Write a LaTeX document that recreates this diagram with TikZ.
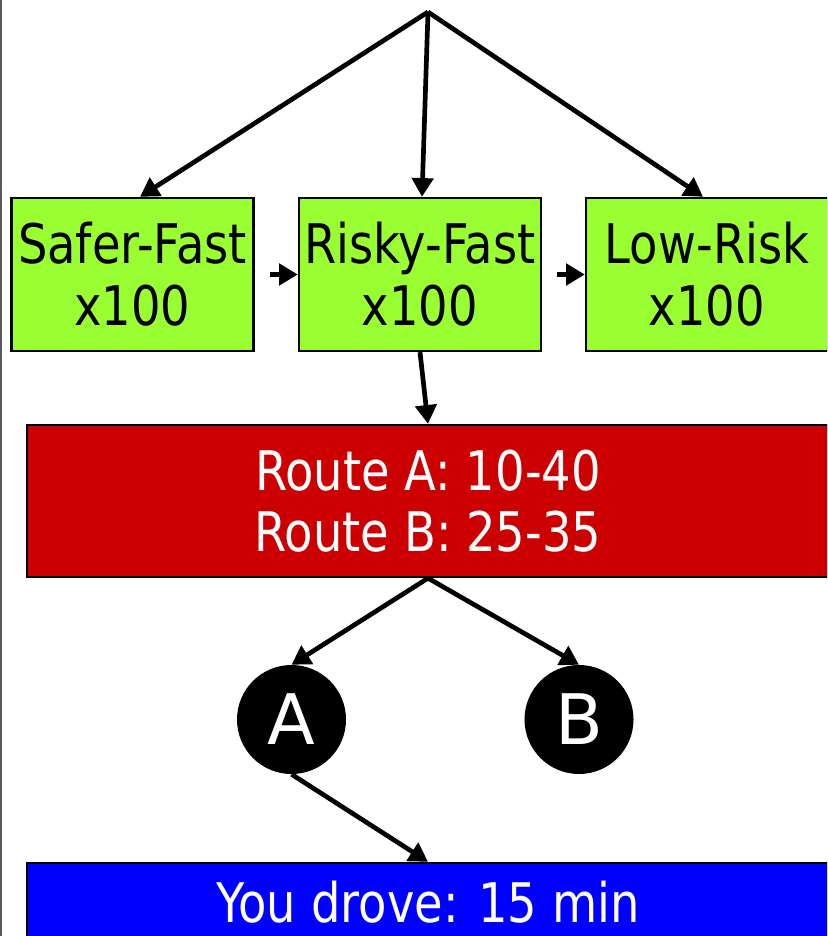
\documentclass[tikz,border=0pt]{standalone}
\usepackage{fontspec}
\setmainfont{DejaVu Sans}[FakeStretch=0.85]
\newfontfamily\letterfont{DejaVu Sans}
\usetikzlibrary{arrows.meta}
\definecolor{boxgreen}{HTML}{99FF33}
\definecolor{boxred}{HTML}{CC0000}
\definecolor{boxblue}{HTML}{0000FF}

\begin{document}
\begin{tikzpicture}[x=0.03cm,y=-0.03cm,
  arr/.style={-{Triangle[length=16pt,width=18pt]},line width=4pt},
  bigtext/.style={font=\fontsize{46.6}{52.7}\selectfont},
  choice/.style={bigtext,draw=black,line width=2pt,fill=boxgreen,
    minimum width=7.26cm,minimum height=4.59cm,align=center,inner sep=0pt},
  band/.style={bigtext,draw=black,line width=2pt,text=white,
    minimum width=24.06cm,align=center,inner sep=0pt},
  disc/.style={circle,fill=black,text=white,minimum size=3.27cm,inner sep=0pt,
    font=\letterfont\fontsize{59.5}{60}\selectfont}]
  \useasboundingbox (0,0) rectangle (827,936);
  \clip (0,0) rectangle (827,936);
  \draw[gray!70!black,line width=1.5pt] (1,0) -- (1,936);

  \coordinate (top) at (428,12);
  \node[choice] (safer)   at (132.5,274.5) {Safer-Fast\\x100};
  \node[choice] (risky)   at (420,274.5)   {Risky-Fast\\x100};
  \node[choice] (lowrisk) at (707,274.5)   {Low-Risk\\x100};
  \node[band,fill=boxred,minimum height=4.56cm] (ranges) at (428,501)
    {Route A: 10-40\\Route B: 25-35};
  \node[disc] (a) at (291.5,719.5) {A};
  \node[disc] (b) at (579,719.5)   {B};
  \node[band,fill=boxblue,minimum height=2.34cm] (drove) at (428,902)
    {You drove: 15 min};

  \draw[arr] (top) -- ([xshift=6.4pt]safer.north);
  \draw[arr] (top) -- ([xshift=1.7pt]risky.north);
  \draw[arr] (top) -- ([xshift=-3.4pt]lowrisk.north);
  \draw[arr,shorten <=13pt] (safer.east) -- (risky.west);
  \draw[arr,shorten <=13pt] (risky.east) -- (lowrisk.west);
  \draw[arr] (risky.south) -- (ranges.north);
  \draw[arr] (ranges.south) -- (a.north);
  \draw[arr] (ranges.south) -- (b.north);
  \draw[arr] (a.south) -- (drove.north);
\end{tikzpicture}
\end{document}
